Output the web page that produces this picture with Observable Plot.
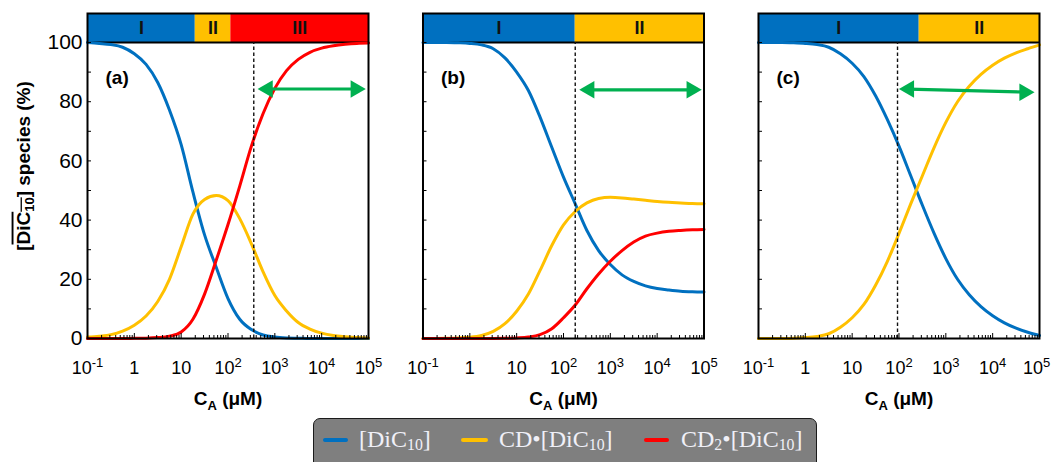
<!DOCTYPE html>
<html>
<head>
<meta charset="utf-8">
<script src="https://cdn.jsdelivr.net/npm/d3@7"></script>
<script src="https://cdn.jsdelivr.net/npm/@observablehq/plot@0.6"></script>
<style>
  html, body { margin: 0; padding: 0; background: #fff; }
  #wrap { position: relative; width: 1051px; height: 462px; overflow: hidden; }
  #chart svg { display: block; }
  #legend {
    position: absolute; left: 313px; top: 418px; width: 504px; height: 52px;
    box-sizing: border-box; background: #7f7f7f; border: 1.5px solid #1b1b1b; border-radius: 7px;
    font-family: "Liberation Serif", "Times New Roman", serif; font-size: 24px; color: #f0f0f8;
  }
  #legend .sw { position: absolute; top: 19px; height: 4px; border-radius: 2px; }
  #legend .lt { position: absolute; top: 6px; line-height: 28px; white-space: nowrap; }
  #legend sub { font-size: 0.66em; vertical-align: -0.2em; line-height: 0; }
</style>
</head>
<body>
<div id="wrap">
  <div id="chart"></div>
  <div id="legend"></div>
</div>
<script>
// ---------- data (every quarter decade) ----------
const CA = [0.1, 0.178, 0.316, 0.562, 1, 1.78, 3.16, 5.62, 10, 17.8, 31.6, 56.2, 100,
            178, 316, 562, 1000, 1778, 3162, 5623, 10000, 17783, 31623, 56234, 100000];

const panels = ["a", "b", "c"];
const panelLabels = ["(a)", "(b)", "(c)"];

const seriesNames = ["[DiC10]", "CD•[DiC10]", "CD2•[DiC10]"];
const seriesColors = ["#0070C0", "#FFC000", "#FF0000"];

// panel (a)
const aFree = [100, 99.7, 99.3, 98.4, 96.2, 92.6, 86.5, 77.2, 65.5, 49.5, 35, 24, 13.5, 6.5, 3, 1.2, 0.5, 0.2, 0.1, 0, 0, 0, 0, 0, 0];
const aCD   = [0.5, 0.8, 1.3, 2.5, 4.5, 7.6, 12.5, 20, 31, 42, 47, 48.3, 46.6, 40.5, 32, 22.5, 14.5, 9.3, 5.4, 3.2, 1.8, 1, 0.6, 0.3, 0.2];
const aCD2  = [0, 0, 0, 0, 0.05, 0.1, 0.3, 0.8, 2.2, 6.5, 15, 26.5, 38.5, 51.5, 65, 76, 84.5, 90.5, 94.3, 96.7, 98.1, 98.9, 99.4, 99.7, 99.8];
// panel (b)
const bFree = [100, 100, 100, 99.9, 99.7, 99.2, 97.9, 94.8, 90, 83.8, 74.8, 64.6, 54.5, 45.5, 36.5, 29.7, 25, 21.5, 19.3, 17.8, 16.9, 16.4, 16, 15.8, 15.7];
const bCD   = [0, 0, 0.05, 0.2, 0.4, 1, 2.4, 5, 9.2, 15, 23, 31.4, 38.4, 42.9, 45.8, 47.3, 47.7, 47.5, 47.1, 46.7, 46.3, 46, 45.8, 45.6, 45.5];
const bCD2  = [0, 0, 0, 0, 0, 0, 0, 0.05, 0.2, 0.5, 1.3, 3.3, 7, 11.3, 16.8, 21.8, 26.1, 29.7, 32.6, 34.6, 35.6, 36.2, 36.5, 36.7, 36.8];
// panel (c)
const cFree = [100, 100, 100, 99.9, 99.7, 99.3, 98.4, 96.2, 93, 88.5, 82, 74, 65, 55, 45, 35.5, 27, 20, 14.8, 10.8, 7.7, 5.3, 3.5, 2.1, 1];
const cCD   = [0, 0, 0, 0.1, 0.3, 0.7, 1.6, 3.8, 7, 11.5, 18, 26, 35.5, 45.5, 55, 64.5, 73, 80, 85.2, 89.2, 92.3, 94.7, 96.5, 97.9, 99.2];

// regime bands on top of each panel
const bandPanel = ["a", "a", "a", "b", "b", "c", "c"];
const bandStart = [0.1, 20, 115, 0.1, 178, 0.1, 270];
const bandEnd   = [20, 115, 1e5, 178, 1e5, 270, 1e5];
const bandText  = ["I", "II", "III", "I", "II", "I", "II"];
const bandColor = ["#0070C0", "#FFC000", "#FF0000", "#0070C0", "#FFC000", "#0070C0", "#FFC000"];
const bandBottom = 100, bandTop = 109.8;

// dashed vertical markers
const dashX = [355, 178, 93];

// green double arrows
const arrowFrom = [430, 218, 100];
const arrowTo   = [87000, 89000, 78000];
const arrowYFrom = [84.3, 84, 84.3];
const arrowYTo   = [84.3, 84, 83.2];

// axes
const xTicks = [0.1, 1, 10, 100, 1000, 10000, 100000];
const xTickLabels = ["10^-1", "1", "10", "10^2", "10^3", "10^4", "10^5"];
const yTicks = [0, 20, 40, 60, 80, 100];
const yLabel = "[DiC10] species (%)";
const xLabel = "CA (μM)";
const green = "#00B050";

// ---------- tables ----------
const panelSeries = [[aFree, aCD, aCD2], [bFree, bCD, bCD2], [cFree, cCD]];
const rows = [];
panels.forEach((p, pi) => {
  panelSeries[pi].forEach((vals, si) => {
    vals.forEach((v, i) => rows.push({panel: p, series: seriesNames[si], color: seriesColors[si], x: CA[i], y: v}));
  });
});
const bandRows = bandPanel.map((p, i) => ({panel: p, x1: bandStart[i], x2: bandEnd[i], yb: bandBottom, yt: bandTop, text: bandText[i], color: bandColor[i]}));
const dashRows = panels.map((p, i) => ({panel: p, x: dashX[i]}));
const arrowRows = panels.map((p, i) => ({panel: p, x1: arrowFrom[i], x2: arrowTo[i], y1: arrowYFrom[i], y2: arrowYTo[i]}));
const labelRows = panels.map((p, i) => ({panel: p, text: panelLabels[i]}));

const xMinor = [];
for (let e = -1; e < 5; e++) for (let m = 2; m <= 9; m++) xMinor.push(m * Math.pow(10, e));

const chart = Plot.plot({
  width: 1051,
  height: 412,
  marginTop: 13,
  marginBottom: 74,
  marginLeft: 87,
  marginRight: 12,
  style: {fontFamily: "'Liberation Sans', Arial, sans-serif", fontSize: "18px", background: "white", color: "black"},
  fx: {domain: panels, axis: null, paddingInner: 0.1624, paddingOuter: 0, round: false},
  x: {type: "log", domain: [0.1, 1e5]},
  y: {domain: [0, bandTop]},
  color: {type: "identity"},
  marks: [
    Plot.rect(bandRows, {fx: "panel", x1: "x1", x2: "x2", y1: "yb", y2: "yt", fill: "color"}),
    Plot.text(bandRows, {fx: "panel", x: d => Math.sqrt(d.x1 * d.x2), y: d => (d.yb + d.yt) / 2, text: "text", fontWeight: "bold", fontSize: 18, fill: "#111"}),
    Plot.ruleY([bandBottom], {stroke: "black", strokeWidth: 2}),
    Plot.line(rows, {fx: "panel", x: "x", y: "y", z: "series", stroke: "color", strokeWidth: 3, curve: "monotone-x"}),
    Plot.ruleX(dashRows, {fx: "panel", x: "x", y1: 0, y2: bandBottom, stroke: "#111", strokeWidth: 1.4, strokeDasharray: "3.5,2.5"}),
    Plot.arrow(arrowRows, {fx: "panel", x1: "x1", y1: "y1", x2: "x2", y2: "y2", stroke: green, strokeWidth: 3.2, headLength: 0, insetStart: 9, insetEnd: 9}),
    Plot.dot(arrowRows, {fx: "panel", x: "x2", y: "y2", symbol: "triangle", r: 6.5, fill: green, rotate: 90, dx: -10}),
    Plot.dot(arrowRows, {fx: "panel", x: "x1", y: "y1", symbol: "triangle", r: 6.5, fill: green, rotate: -90, dx: 10}),
    Plot.frame({stroke: "black", strokeWidth: 2}),
    Plot.axisX({ticks: xTicks, tickSize: 0, tickPadding: 23, tickFormat: d => xTickLabels[xTicks.indexOf(d)], label: null, fontSize: 18}),
    Plot.axisX({ticks: xTicks, tickSize: -5, tickFormat: () => "", label: null}),
    Plot.axisX({ticks: xMinor, tickSize: -3, tickFormat: () => "", label: null}),
    Plot.axisY({ticks: yTicks, tickSize: 0, tickPadding: 5, label: null, fontSize: 21}),
    Plot.axisY({ticks: d3.range(0, 101, 10), tickSize: -4, tickFormat: () => "", label: null, facetAnchor: null}),
    Plot.text(labelRows, {fx: "panel", text: "text", frameAnchor: "top-left", dx: 18, dy: 64, textAnchor: "start", lineAnchor: "middle", fontWeight: "bold", fontSize: 19}),
    Plot.text([xLabel], {text: d => d, frameAnchor: "bottom", dy: 60, textAnchor: "middle", lineAnchor: "middle", fontWeight: "bold", fontSize: 19}),
    Plot.text([{panel: "a"}], {fx: "panel", text: () => yLabel, frameAnchor: "left", dx: -64, dy: -10, rotate: -90, textAnchor: "middle", lineAnchor: "middle", fontWeight: "bold", fontSize: 19})
  ]
});
document.getElementById("chart").appendChild(chart);

// ---------- typographic touches (superscripts / subscripts) ----------
const NS = "http://www.w3.org/2000/svg";
function tspan(txt, attrs) {
  const t = document.createElementNS(NS, "tspan");
  t.textContent = txt;
  for (const k in attrs) t.setAttribute(k, attrs[k]);
  return t;
}
const lastLabels = [];
chart.querySelectorAll("text").forEach(el => {
  const s = el.textContent;
  if (/^10\^/.test(s)) {
    if (s === "10^5") lastLabels.push(el);
    const exp = s.split("^")[1];
    el.textContent = "10";
    el.appendChild(tspan(exp, {"font-size": "13px", dy: "-7"}));
  } else if (s === xLabel) {
    el.textContent = "C";
    el.appendChild(tspan("A", {"font-size": "13px", dy: "5"}));
    el.appendChild(tspan(" (μM)", {dy: "-5"}));
  } else if (s === yLabel) {
    el.textContent = "[";
    const over = tspan("DiC", {"text-decoration": "overline"});
    over.appendChild(tspan("10", {"font-size": "13px", dy: "4"}));
    el.appendChild(over);
    el.appendChild(tspan("] species (%)", {dy: "-4"}));
  }
});
// the right-most label sits against the page edge: nudge it inward a little
if (lastLabels.length) lastLabels[lastLabels.length - 1].setAttribute("dx", "-3");

// ---------- legend ----------
const legendSwatchLeft = [9, 147, 330];
const legendSwatchWidth = [25, 27, 25];
const legendTextLeft = [45, 185, 367];
const legendHTML = ["[DiC<sub>10</sub>]", "CD•[DiC<sub>10</sub>]", "CD<sub>2</sub>•[DiC<sub>10</sub>]"];
const legend = document.getElementById("legend");
seriesNames.forEach((name, i) => {
  const sw = document.createElement("span");
  sw.className = "sw";
  sw.style.left = legendSwatchLeft[i] + "px";
  sw.style.width = legendSwatchWidth[i] + "px";
  sw.style.background = seriesColors[i];
  legend.appendChild(sw);
  const lt = document.createElement("span");
  lt.className = "lt";
  lt.style.left = legendTextLeft[i] + "px";
  lt.innerHTML = legendHTML[i];
  legend.appendChild(lt);
});
</script>
</body>
</html>
